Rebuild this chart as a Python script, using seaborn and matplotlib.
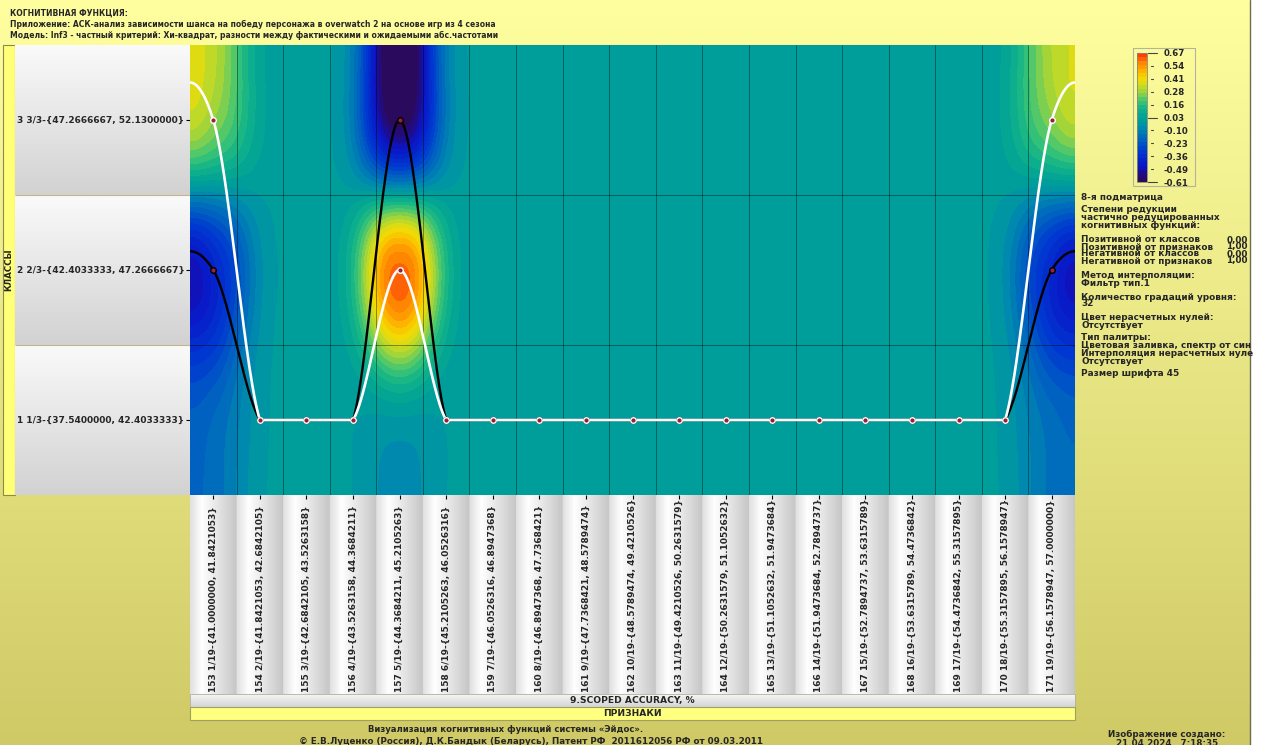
import numpy as np
import pandas as pd
import matplotlib
matplotlib.use("Agg")
import matplotlib.pyplot as plt
from matplotlib.colors import LinearSegmentedColormap, to_rgb
from matplotlib.patches import Rectangle
from matplotlib.transforms import blended_transform_factory
import seaborn as sns

sns.set_theme(style="white")
plt.rcParams["font.family"] = ["DejaVu Sans"]
plt.rcParams["font.weight"] = "bold"

W, H = 1265, 745

# ---------------------------------------------------------------- data
HEADER_LINES = [
    "КОГНИТИВНАЯ ФУНКЦИЯ:",
    "Приложение: АСК-анализ зависимости шанса на победу персонажа в overwatch 2 на основе игр из 4 сезона",
    "Модель: Inf3 - частный критерий: Хи-квадрат, разности между фактическими и ожидаемыми абс.частотами",
]

CLASS_LABELS = [
    "1 1/3-{37.5400000, 42.4033333}",
    "2 2/3-{42.4033333, 47.2666667}",
    "3 3/3-{47.2666667, 52.1300000}",
]

FEATURE_LABELS = [
    "153 1/19-{41.0000000, 41.8421053}",
    "154 2/19-{41.8421053, 42.6842105}",
    "155 3/19-{42.6842105, 43.5263158}",
    "156 4/19-{43.5263158, 44.3684211}",
    "157 5/19-{44.3684211, 45.2105263}",
    "158 6/19-{45.2105263, 46.0526316}",
    "159 7/19-{46.0526316, 46.8947368}",
    "160 8/19-{46.8947368, 47.7368421}",
    "161 9/19-{47.7368421, 48.5789474}",
    "162 10/19-{48.5789474, 49.4210526}",
    "163 11/19-{49.4210526, 50.2631579}",
    "164 12/19-{50.2631579, 51.1052632}",
    "165 13/19-{51.1052632, 51.9473684}",
    "166 14/19-{51.9473684, 52.7894737}",
    "167 15/19-{52.7894737, 53.6315789}",
    "168 16/19-{53.6315789, 54.4736842}",
    "169 17/19-{54.4736842, 55.3157895}",
    "170 18/19-{55.3157895, 56.1578947}",
    "171 19/19-{56.1578947, 57.0000000}",
]

# Inf3 (chi-square differences) per class, one value per feature gradation
INF3_CLASS_1 = [-0.11, 0, 0, 0, -0.06, 0, 0, 0, 0, 0, 0, 0, 0, 0, 0, 0, 0, 0, -0.10]
INF3_CLASS_2 = [-0.33, 0, 0, 0, 0.65, 0, 0, 0, 0, 0, 0, 0, 0, 0, 0, 0, 0, 0, -0.32]
INF3_CLASS_3 = [0.23, 0, 0, 0, -0.61, 0, 0, 0, 0, 0, 0, 0, 0, 0, 0, 0, 0, 0, 0.22]

V_MIN, V_MAX = -0.61, 0.67
N_LEVELS = 32
CBAR_LABELS = ["0.67", "0.54", "0.41", "0.28", "0.16", "0.03",
               "-0.10", "-0.23", "-0.36", "-0.49", "-0.61"]

X_TITLE = "9.SCOPED ACCURACY, %"
X_GROUP = "ПРИЗНАКИ"
Y_GROUP = "КЛАССЫ"

PANEL_LINES = [
    "8-я подматрица",
    "Степени редукции",
    "частично редуцированных",
    "когнитивных функций:",
    "Позитивной от классов",
    "Позитивной от признаков",
    "Негативной от классов",
    "Негативной от признаков",
    "Метод интерполяции:",
    "Фильтр тип.1",
    "Количество градаций уровня:",
    "32",
    "Цвет нерасчетных нулей:",
    "Отсутствует",
    "Тип палитры:",
    "Цветовая заливка, спектр от син",
    "Интерполяция нерасчетных нуле",
    "Отсутствует",
    "Размер шрифта 45",
]
REDUCTION_VALUES = ["0,00", "1,00", "0,00", "1,00"]

CREDITS = [
    "Визуализация когнитивных функций системы «Эйдос».",
    "© Е.В.Луценко (Россия), Д.К.Бандык (Беларусь), Патент РФ  2011612056 РФ от 09.03.2011",
]
CREATED = ["Изображение создано:", "21.04.2024   7:18:35"]

# ---------------------------------------------------------------- helpers
def box(x0, y0, x1, y1):
    return [x0 / W, 1 - y1 / H, (x1 - x0) / W, (y1 - y0) / H]


def catmull_rom(values, t):
    """Catmull-Rom spline through nodes at 0..n-1, mirrored at the outer half-cell edges."""
    v = np.asarray(values, float)
    n = len(v)
    p = np.concatenate([v[1::-1], v, v[:-3:-1]])
    t = np.asarray(t, float)
    i = np.clip(np.floor(t).astype(int), -1, n - 1)
    u = t - i
    p0, p1, p2, p3 = p[i + 1], p[i + 2], p[i + 3], p[i + 4]
    m1 = (p2 - p0) / 2
    m2 = (p3 - p1) / 2
    u2, u3 = u * u, u * u * u
    return ((2 * u3 - 3 * u2 + 1) * p1 + (u3 - 2 * u2 + u) * m1
            + (-2 * u3 + 3 * u2) * p2 + (u3 - u2) * m2)


def filtered_field(matrix, gx, gy, sx, sy, power=2.4):
    """Elliptic bump per matrix cell, mirrored at the plot edges."""
    n_rows, n_cols = matrix.shape
    X, Y = np.meshgrid(gx, gy)
    out = np.zeros_like(X)
    for r in range(n_rows):
        yc = r + 1
        ys = [yc, 1 - yc, 2 * n_rows + 1 - yc]
        for c in range(n_cols):
            val = matrix[r, c]
            if val == 0:
                continue
            for xm in (c, -1 - c, 2 * n_cols - 1 - c):
                for ym in ys:
                    rad = np.sqrt(((X - xm) / sx) ** 2 + ((Y - ym) / sy) ** 2)
                    out += val * np.exp(-0.5 * rad ** power)
    return out


def vgrad(c_top, c_bot, n=64):
    a, b = np.array(to_rgb(c_top)), np.array(to_rgb(c_bot))
    f = np.linspace(0, 1, n)[:, None, None]
    return a + (b - a) * f


# ---------------------------------------------------------------- colour map
spectrum = LinearSegmentedColormap.from_list("eidos", [
    (0.000, "#2d0a4e"), (0.070, "#1e0c90"), (0.125, "#0a16c8"),
    (0.240, "#0038d0"), (0.336, "#0064c0"), (0.420, "#0088b0"),
    (0.477, "#009d9b"), (0.500, "#00a098"), (0.570, "#12b488"),
    (0.633, "#44c670"), (0.695, "#98d440"), (0.758, "#d8dc18"),
    (0.810, "#f6d800"), (0.867, "#ffb000"), (0.930, "#ff8000"),
    (1.000, "#ff3010"),
])

# ---------------------------------------------------------------- field
inf3 = np.array([INF3_CLASS_1, INF3_CLASS_2, INF3_CLASS_3], float)
n_cls, n_feat = inf3.shape

gx = np.linspace(-0.5, n_feat - 0.5, n_feat * 40)
gy = np.linspace(0.5, n_cls + 0.5, n_cls * 100)
field = filtered_field(inf3, gx, gy, 0.62, 0.50)
field = np.clip(field, V_MIN + 1e-6, V_MAX - 1e-6)

levels = np.linspace(V_MIN, V_MAX, N_LEVELS + 1)

# ---------------------------------------------------------------- figure
fig = plt.figure(figsize=(W / 100, H / 100), dpi=100)

# pixel canvas for the background and decorations
bg = fig.add_axes([0, 0, 1, 1], zorder=-10)
bg.imshow(vgrad("#ffffa0", "#cfca66", 256), extent=(0, W, H, 0), aspect="auto")
bg.add_patch(Rectangle((1250, 0), 20, H, facecolor="white", edgecolor="none"))
bg.plot([1250, 1250], [0, H], color="#6d6d50", lw=1)
# class strip
bg.add_patch(Rectangle((3, 45), 12, 450, facecolor="#ffff78", edgecolor="#8a8a50", lw=0.8))
bg.text(9, 270, Y_GROUP, rotation=90, ha="center", va="center", fontsize=6.3)
# feature title bands
bg.imshow(vgrad("#f6f6f6", "#d4d4d4"), extent=(190, 1075, 707, 694), aspect="auto")
bg.add_patch(Rectangle((190, 694), 885, 13, fill=False, edgecolor="#b0b0a0", lw=0.6))
bg.text(632, 700.5, X_TITLE, ha="center", va="center", fontsize=6.6)
bg.add_patch(Rectangle((190, 707), 885, 13, facecolor="#ffff80", edgecolor="#a0a060", lw=0.8))
bg.text(632, 713.5, X_GROUP, ha="center", va="center", fontsize=6.6)
# header and footer text
for k, line in enumerate(HEADER_LINES):
    bg.text(10, 13 + 11 * k, line, ha="left", va="center", fontsize=5.5)
bg.text(506, 729, CREDITS[0], ha="center", va="center", fontsize=6.1)
bg.text(531, 741, CREDITS[1], ha="center", va="center", fontsize=6.3)
bg.text(1167, 734, CREATED[0], ha="center", va="center", fontsize=6.3)
bg.text(1167, 743, CREATED[1], ha="center", va="center", fontsize=6.3)
# colour bar frame
bg.add_patch(Rectangle((1133, 48), 62, 138, fill=False, edgecolor="#b4b49a", lw=0.8))
bg.set_xlim(0, W)
bg.set_ylim(H, 0)
bg.axis("off")

# main cognitive-function field
ax = fig.add_axes(box(190, 45, 1075, 495), zorder=3)
cf = ax.contourf(gx, gy, field, levels=levels, cmap=spectrum, vmin=V_MIN, vmax=V_MAX)
ax.vlines(np.arange(0.5, n_feat - 1), 0.5, n_cls + 0.5, color="black", lw=0.7, alpha=0.4)
ax.hlines(np.arange(1.5, n_cls), -0.5, n_feat - 0.5, color="black", lw=0.7, alpha=0.4)

xs = np.linspace(-0.5, n_feat - 0.5, 2400)
best = inf3.argmax(axis=0) + 1
worst = inf3.argmin(axis=0) + 1
cols = np.arange(n_feat)
low_curve = pd.DataFrame({"x": xs, "y": np.maximum(catmull_rom(worst, xs), 1)})
high_curve = pd.DataFrame({"x": xs, "y": np.maximum(catmull_rom(best, xs), 1)})
sns.lineplot(data=low_curve, x="x", y="y", color="black", lw=1.7,
             estimator=None, sort=False, ax=ax)
sns.lineplot(data=high_curve, x="x", y="y", color="white", lw=1.9,
             estimator=None, sort=False, ax=ax)
sns.scatterplot(x=cols, y=worst, s=16, color="#9a2038", edgecolor="black",
                linewidth=1.0, zorder=5, ax=ax)
sns.scatterplot(x=cols, y=best, s=16, color="#9a2038", edgecolor="white",
                linewidth=1.0, zorder=6, ax=ax)

ax.set_xlim(-0.5, n_feat - 0.5)
ax.set_ylim(0.5, n_cls + 0.5)
ax.set_xticks(cols)
ax.set_yticks(np.arange(1, n_cls + 1))
ax.set_xticklabels([])
ax.set_yticklabels([])
ax.set_xlabel("")
ax.set_ylabel("")
ax.tick_params(direction="out", length=3, width=0.8, color="black",
               bottom=True, left=True)
for s in ax.spines.values():
    s.set_visible(False)

# class labels
lax = fig.add_axes(box(15, 45, 190, 495))
for k in range(1, n_cls + 1):
    lax.imshow(vgrad("#fafafa", "#d2d2d2"), extent=(0, 1, k - 0.5, k + 0.5), aspect="auto")
    lax.text(0.012, k, CLASS_LABELS[k - 1], ha="left", va="center", fontsize=6.5)
lax.hlines(np.arange(1.5, n_cls), 0, 1, color="#c8b48a", lw=0.8)
lax.set_xlim(0, 1)
lax.set_ylim(0.5, n_cls + 0.5)
lax.axis("off")

# feature labels
fax = fig.add_axes(box(190, 495, 1075, 694))
frac = np.linspace(0, 1, 40)
prof = np.interp(frac, [0, 0.25, 1], [0.88, 1.0, 0.78])
tile = np.tile(prof, n_feat)
fax.imshow(np.repeat(tile[None, :, None], 3, axis=2), extent=(-0.5, n_feat - 0.5, 0, 1),
           aspect="auto")
for i, lab in enumerate(FEATURE_LABELS):
    fax.text(i, 0.012, lab, rotation=90, ha="center", va="bottom", fontsize=6.5)
fax.set_xlim(-0.5, n_feat - 0.5)
fax.set_ylim(0, 1)
fax.axis("off")

# colour bar
cax = fig.add_axes(box(1137, 53, 1147, 182))
cb = fig.colorbar(cf, cax=cax)
cb.outline.set_edgecolor("#888878")
cb.outline.set_linewidth(0.6)
tick_pos = np.linspace(V_MAX, V_MIN, len(CBAR_LABELS))
cax.set_yticks(tick_pos)
cax.set_yticklabels(CBAR_LABELS)
cax.tick_params(length=0, pad=12, labelsize=6.2)
tr = blended_transform_factory(cax.transAxes, cax.transData)
for k, yv in enumerate(tick_pos):
    if k in (0, 5, len(tick_pos) - 1):
        cax.plot([1.1, 2.0], [yv, yv], transform=tr, clip_on=False, color="#444444", lw=0.8)
    else:
        cax.plot([1.4, 1.6], [yv, yv], transform=tr, clip_on=False, color="#444444", lw=0.8)

# settings panel
panel_y = [197, 210, 218, 226, 240, 247, 254, 261, 276, 284, 297, 304,
           317, 325, 338, 345, 354, 362, 374]
for text, yv in zip(PANEL_LINES, panel_y):
    bg.text(1081, yv, text, ha="left", va="center", fontsize=6.4)
for text, yv in zip(REDUCTION_VALUES, panel_y[4:8]):
    bg.text(1248, yv, text, ha="right", va="center", fontsize=6.4)

fig.savefig("out.png", dpi=100)
